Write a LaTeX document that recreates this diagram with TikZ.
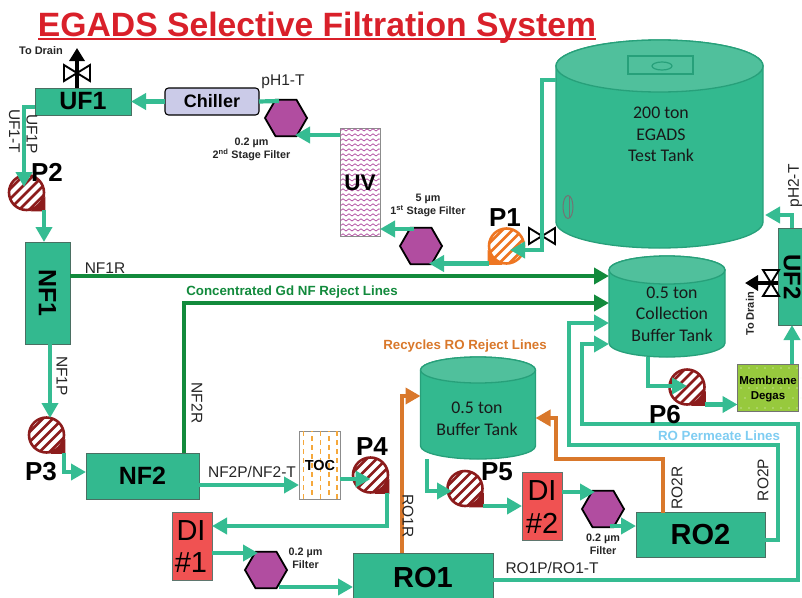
\documentclass[tikz,border=0pt]{standalone}
\usepackage{fontspec}
\setmainfont{Liberation Sans}
\newfontfamily\calib{Carlito}
\usetikzlibrary{arrows.meta,shapes.geometric,calc}
\definecolor{teal1}{HTML}{33B98F}
\definecolor{tealedge}{HTML}{27A07A}
\definecolor{teallid}{HTML}{50C09C}
\definecolor{boxedge}{HTML}{4A6F62}
\definecolor{flowc}{HTML}{35BC92}
\definecolor{darkgrn}{HTML}{128A3C}
\definecolor{orng}{HTML}{D9782B}
\definecolor{pumpred}{HTML}{8C1C1C}
\definecolor{pumporg}{HTML}{EE7622}
\definecolor{filterc}{HTML}{B14DA0}
\definecolor{direc}{HTML}{F05252}
\definecolor{degas}{HTML}{97C93D}
\definecolor{titlered}{HTML}{D9202A}
\definecolor{chillc}{HTML}{CBCBE8}
\definecolor{permblue}{HTML}{7FCDF2}
\definecolor{tocorg}{HTML}{F5A83C}
\tikzset{
  unit/.style={draw=boxedge,line width=0.9,fill=teal1,inner sep=0,outer sep=0,font=\bfseries\fontsize{25}{25}\selectfont},
  bigunit/.style={unit,font=\bfseries\fontsize{29}{29}\selectfont},
  direct/.style={draw=boxedge!60!gray,line width=0.8,fill=direc,inner sep=0,outer sep=0,minimum width=40,minimum height=68},
  disp/.style={font=\fontsize{29}{29}\selectfont,inner sep=0},
  filt/.style={regular polygon,regular polygon sides=6,minimum size=42,inner sep=0,outer sep=0,draw=black,line width=1.8,fill=filterc},
  lbl/.style={font=\fontsize{15.5}{15.5}\selectfont,inner sep=0,text=black!85},
  smallb/.style={font=\bfseries\fontsize{10.8}{13}\selectfont,inner sep=0,align=center,text=black!85},
  pname/.style={font=\bfseries\fontsize{26}{26}\selectfont,inner sep=0},
  linelbl/.style={font=\bfseries\fontsize{13.3}{13.3}\selectfont,inner sep=0},
  tanktext/.style={font=\calib\fontsize{17.8}{21.5}\selectfont,align=center,inner sep=0,text=black!90},
  pipe/.style={line width=4.2,draw=flowc,line join=miter},
  flow/.style={pipe,-{Triangle[length=15pt,width=16pt]}},
  rejg/.style={line width=4.2,draw=darkgrn,-{Triangle[length=15pt,width=16pt]}},
  rejo/.style={line width=4.2,draw=orng,-{Triangle[length=15pt,width=16pt]}},
  drain/.style={line width=3.4,draw=black,-{Triangle[length=13pt,width=15pt]}},
}
% name, x, y, colour, side
\newcommand\pumpsym[5]{%
  \begin{scope}[shift={(#2,#3)}]
    \fill[white] (0,0) circle[radius=17.5];
    \begin{scope}
      \clip (0,0) circle[radius=17.5];
      \foreach \k in {-40,-30,...,40}
        \draw[#4,line width=2.8] (\k-30,30) -- (\k+30,-30);
    \end{scope}
    \draw[#4,line width=2.6] (0,0) circle[radius=17.5];
    \fill[#4] (#5*18.8,4) -- (#5*18.8,18.8) -- (#5*4,18.8) -- (#5*11.5,11.5) -- cycle;
    \node[circle,minimum size=35,inner sep=0,outer sep=0] (#1) at (0,0) {};
    \coordinate (#1c) at (#5*17.5,17.5);
  \end{scope}}
% name, x, y, rotation
\newcommand\valvesym[4]{%
  \begin{scope}[shift={(#2,#3)},rotate=#4]
    \draw[black,line width=1.9,line join=miter] (-13,-8) -- (13,8) -- (13,-8) -- (-13,8) -- cycle;
    \coordinate (#1) at (0,0);
  \end{scope}}
% name, cx, top, bottom, half width, ry
\newcommand\tanksym[6]{%
  \fill[teal1,draw=tealedge,line width=1.3]
    (#2-#5,#3+#6) -- (#2-#5,#4-#6) arc[start angle=180,end angle=0,x radius=#5,y radius=#6]
    -- (#2+#5,#3+#6) arc[start angle=0,end angle=-180,x radius=#5,y radius=#6] -- cycle;
  \fill[teallid,draw=tealedge,line width=1.3] (#2,#3+#6) ellipse[x radius=#5,y radius=#6];
  \node[inner sep=0,outer sep=0,minimum width=2*#5,minimum height=#4-#3] (#1) at (#2,{(#3+#4)/2}) {};
}
\begin{document}
\begin{tikzpicture}[x=1pt,y=-1pt]
\useasboundingbox (0,0) rectangle (802,597);
\clip (0,0) rectangle (802,597);
\fill[white] (0,0) rectangle (802,597);

% title
\node[font=\bfseries\fontsize{33.7}{34}\selectfont,text=titlered,inner sep=0,anchor=base] (title) at (317,36) {EGADS Selective Filtration System};
\draw[titlered,line width=2] (38,38.5) -- (596,38.5);

% tanks
\tanksym{maintank}{659.5}{40}{248}{103.5}{26}
\draw[tealedge,line width=1.2] (628,56) rectangle (693,74);
\draw[tealedge,line width=1.2] (662,66) ellipse[x radius=10,y radius=4];
\draw[black!55,line width=1] (568,207) ellipse[x radius=5,y radius=11.5];
\draw[black!55,line width=1] (569.5,196) -- (569.5,218);
\node[tanktext,font=\calib\fontsize{17.8}{21.3}\selectfont] (maintxt) at (661,134.5) {200 ton\\EGADS\\Test Tank};
\tanksym{coltank}{667}{256}{357}{58}{14}
\node[tanktext] (coltxt) at (672,314) {0.5 ton\\Collection\\Buffer Tank};
\tanksym{buftank}{478}{357}{459}{57.5}{13}
\node[tanktext] (buftxt) at (477,419) {0.5 ton\\Buffer Tank};

% units
\node[unit,minimum width=96,minimum height=27] (UF1) at (83,101.5) {UF1};
\node[unit,minimum width=45,minimum height=102] (NF1) at (47.5,293) {\rotatebox{-90}{NF1}};
\node[unit,minimum width=113,minimum height=46] (NF2) at (142.5,476) {NF2};
\node[bigunit,minimum width=140,minimum height=50] (RO1) at (423,578) {RO1};
\node[bigunit,minimum width=129,minimum height=45] (RO2) at (700.5,535) {RO2};
\node[unit,minimum width=48,minimum height=97] (UF2) at (802,276.5) {};
\node[font=\bfseries\fontsize{24}{24}\selectfont,inner sep=0,rotate=-90] (UF2t) at (792,277) {UF2};
\node[rounded corners=3.5,draw=black,line width=1.1,fill=chillc,inner sep=0,outer sep=0,minimum width=94,minimum height=27,font=\bfseries\fontsize{18}{18}\selectfont] (chiller) at (212,101.5) {Chiller};

% UV
\node[draw=black!45,line width=0.8,fill=white,inner sep=0,outer sep=0,minimum width=40,minimum height=108] (UV) at (360,182) {};
\begin{scope}
  \clip (340.5,128.5) rectangle (379.5,235.5);
  \foreach \r in {0,...,21} {
    \draw[filterc,line width=0.7]
      \foreach \c in {0,...,7} {
        ({340+6*\c},{131+5*\r}) -- ++(3,-2.2) -- ++(3,2.2)
      };
  }
\end{scope}
\node[font=\bfseries\fontsize{22.5}{22.5}\selectfont,inner sep=0] (UVt) at (360,183) {UV};

% TOC
\node[draw=black!45,line width=0.8,fill=white,inner sep=0,outer sep=0,minimum width=41,minimum height=68] (TOC) at (319.5,465) {};
\begin{scope}
  \clip (299.5,431.5) rectangle (339.5,498.5);
  \foreach \c/\o in {303.5/0,312/4,320.5/0,329/4,337/0}
    \draw[tocorg,line width=1.1,dash pattern=on 5pt off 4pt,dash phase=\o pt] (\c,431) -- (\c,499);
\end{scope}
\node[font=\bfseries\fontsize{14.5}{14.5}\selectfont,inner sep=0] (TOCt) at (320,465) {TOC};

% membrane degas
\node[draw=black!55,line width=0.8,fill=degas,inner sep=0,outer sep=0,minimum width=61,minimum height=47] (MD) at (768,387.5) {};
\foreach \r in {0,...,4} \foreach \c in {0,...,7}
  \fill[white!85!degas] ({741+8*\c+4*mod(\r,2)},{368+10*\r}) circle[radius=0.6];
\node[font=\bfseries\fontsize{11.5}{14.5}\selectfont,align=center,inner sep=0] (MDt) at (768,389) {Membrane\\Degas};

% DI
\node[direct] (DI1) at (192,546) {};
\node[disp] (DI1a) at (191,531) {DI};
\node[disp] (DI1b) at (191,563) {\#1};
\node[direct] (DI2) at (542,506) {};
\node[disp] (DI2a) at (542,491) {DI};
\node[disp] (DI2b) at (542,523) {\#2};

% filters
\node[filt] (hexA) at (286,118) {};
\node[filt] (hexB) at (421,246) {};
\node[filt] (hexC) at (266,570) {};
\node[filt] (hexD) at (603,509) {};

% pumps
\pumpsym{P1}{506.5}{246}{pumporg}{-1}
\pumpsym{P2}{26.5}{192.5}{pumpred}{1}
\pumpsym{P3}{46.5}{435}{pumpred}{1}
\pumpsym{P4}{370.5}{475}{pumpred}{1}
\pumpsym{P5}{465}{488.5}{pumpred}{1}
\pumpsym{P6}{687}{387}{pumpred}{1}

% valves
\valvesym{vUF1}{77}{73}{0}
\valvesym{vMain}{542}{236}{0}
\valvesym{vUF2}{771}{283}{90}

% waypoints of the lines
\coordinate (aTop) at (279,101);
\coordinate (bTop) at (414,229);
\coordinate (mOut) at (556,80);
\coordinate (pump1in) at (510,250);
\coordinate (uf1col) at (24,107);
\coordinate (drainUF1) at (77,48);
\coordinate (drainUF2) at (745,283);
\coordinate (ptank) at (765,215);
\coordinate (cP6) at (648,386);
\coordinate (r2r) at (556,459);
\coordinate (r2pa) at (778,445);
\coordinate (r2p) at (569,445);
\coordinate (r1pa) at (798,424);
\coordinate (r1p) at (582,424);

% connectors
\draw[drain] (UF1.north-|vUF1) -- (drainUF1);
\draw[drain] (UF2.west|-vUF2) -- (drainUF2);
\draw[flow] (chiller.west) -- (UF1.east);
\draw[pipe] (chiller.east) -- (aTop);
\draw[flow] (UV.west|-0,135) -- (295,135);
\draw[flow] (bTop) -- (UV.east|-bTop);
\draw[flow] (P1c) -- (P1c-|429,0);
\draw[flow] (mOut) -| (vMain) |- (pump1in);
\draw[flow] (UF1.west|-uf1col) -| (24,187);
\draw[flow] (P2c) -- (P2c|-NF1.north);
\draw[flow] (NF1.south-|50,0) -- (50,418);
\draw[flow] (P3c) |- (NF2.west|-0,472);
\draw[flow] (NF2.east|-0,485) -- (TOC.west|-0,485);
\draw[flow] (TOC.east|-0,479) -- (P4.center|-0,479);
\draw[flow] (P4c) ++(-1,0) |- (DI1.east|-0,526);
\draw[flow] (DI1.east|-0,553) -- (258,553);
\draw[flow] (279,587) -- (RO1.west|-0,587);
\draw[flow] (coltank.south-|cP6) |- (P6.center|-cP6);
\draw[flow] (P6c) -- (MD.west|-P6c);
\draw[flow] (MD.north-|792,0) -- (792,325);
\draw[flow] (UF2.north-|792,0) |- (ptank);
\draw[flow] (buftank.south-|427,0) |- (452,491);
\draw[flow] (P5c) -- (DI2.west|-P5c);
\draw[flow] (DI2.east|-0,492) -- (595,492);
\draw[flow] (610,526) -- (RO2.west|-0,526);
\draw[flow] (RO2.east|-0,540) -| (r2pa) -- (r2p) |- (coltank.west|-0,323);
\draw[flow] (RO1.east|-0,580) -| (r1pa) -- (r1p) |- (coltank.west|-0,344);

\draw[rejg] (NF1.east|-0,276) -- (coltank.west|-0,276);
\draw[rejg] (NF2.north-|184,0) |- (coltank.west|-0,303);
\draw[rejo] (RO1.north-|402,0) |- (buftank.west|-0,396);
\draw[rejo] (RO2.north-|663,0) |- (r2r) |- (buftank.east|-0,418);

% labels
\node[smallb,font=\bfseries\fontsize{11}{11}\selectfont] (drainlbl1) at (41,51) {To Drain};
\node[smallb,font=\bfseries\fontsize{11}{11}\selectfont,rotate=90] (drainlbl2) at (750,314) {To Drain};
\node[lbl] (ph1) at (283,81.5) {pH1-T};
\node[lbl,rotate=90] (ph2) at (795,186) {pH2-T};
\node[lbl,rotate=-90] (uf1t) at (14.5,131) {UF1-T};
\node[lbl,rotate=-90] (uf1p) at (32,134) {UF1P};
\node[lbl] (nf1r) at (105,268) {NF1R};
\node[lbl,rotate=-90] (nf1p) at (62,376) {NF1P};
\node[lbl,rotate=-90] (nf2r) at (197,403) {NF2R};
\node[lbl] (nf2p) at (252,472) {NF2P/NF2-T};
\node[lbl,rotate=-90] (ro1r) at (408,516) {RO1R};
\node[lbl] (ro1p) at (552,568) {RO1P/RO1-T};
\node[lbl,rotate=90] (ro2r) at (677,488) {RO2R};
\node[lbl,rotate=90] (ro2p) at (763,480) {RO2P};
\node[smallb] (f1) at (251.5,149.5) {0.2 µm\\2\textsuperscript{nd} Stage Filter};
\node[smallb] (f2) at (428,205.5) {5 µm\\1\textsuperscript{st} Stage Filter};
\node[smallb] (f3) at (305.5,558) {0.2 µm\\Filter};
\node[smallb] (f4) at (603,544) {0.2 µm\\Filter};
\node[pname] (l1) at (505,218) {P1};
\node[pname] (l2) at (47,172) {P2};
\node[pname] (l3) at (41,472) {P3};
\node[pname] (l4) at (372,447) {P4};
\node[pname] (l5) at (497,472) {P5};
\node[pname] (l6) at (665,415) {P6};
\node[linelbl,text=darkgrn] (t1) at (292,292) {Concentrated Gd NF Reject Lines};
\node[linelbl,text=orng] (t2) at (465,346) {Recycles RO Reject Lines};
\node[linelbl,text=permblue] (t3) at (719,436) {RO Permeate Lines};
\end{tikzpicture}
\end{document}
